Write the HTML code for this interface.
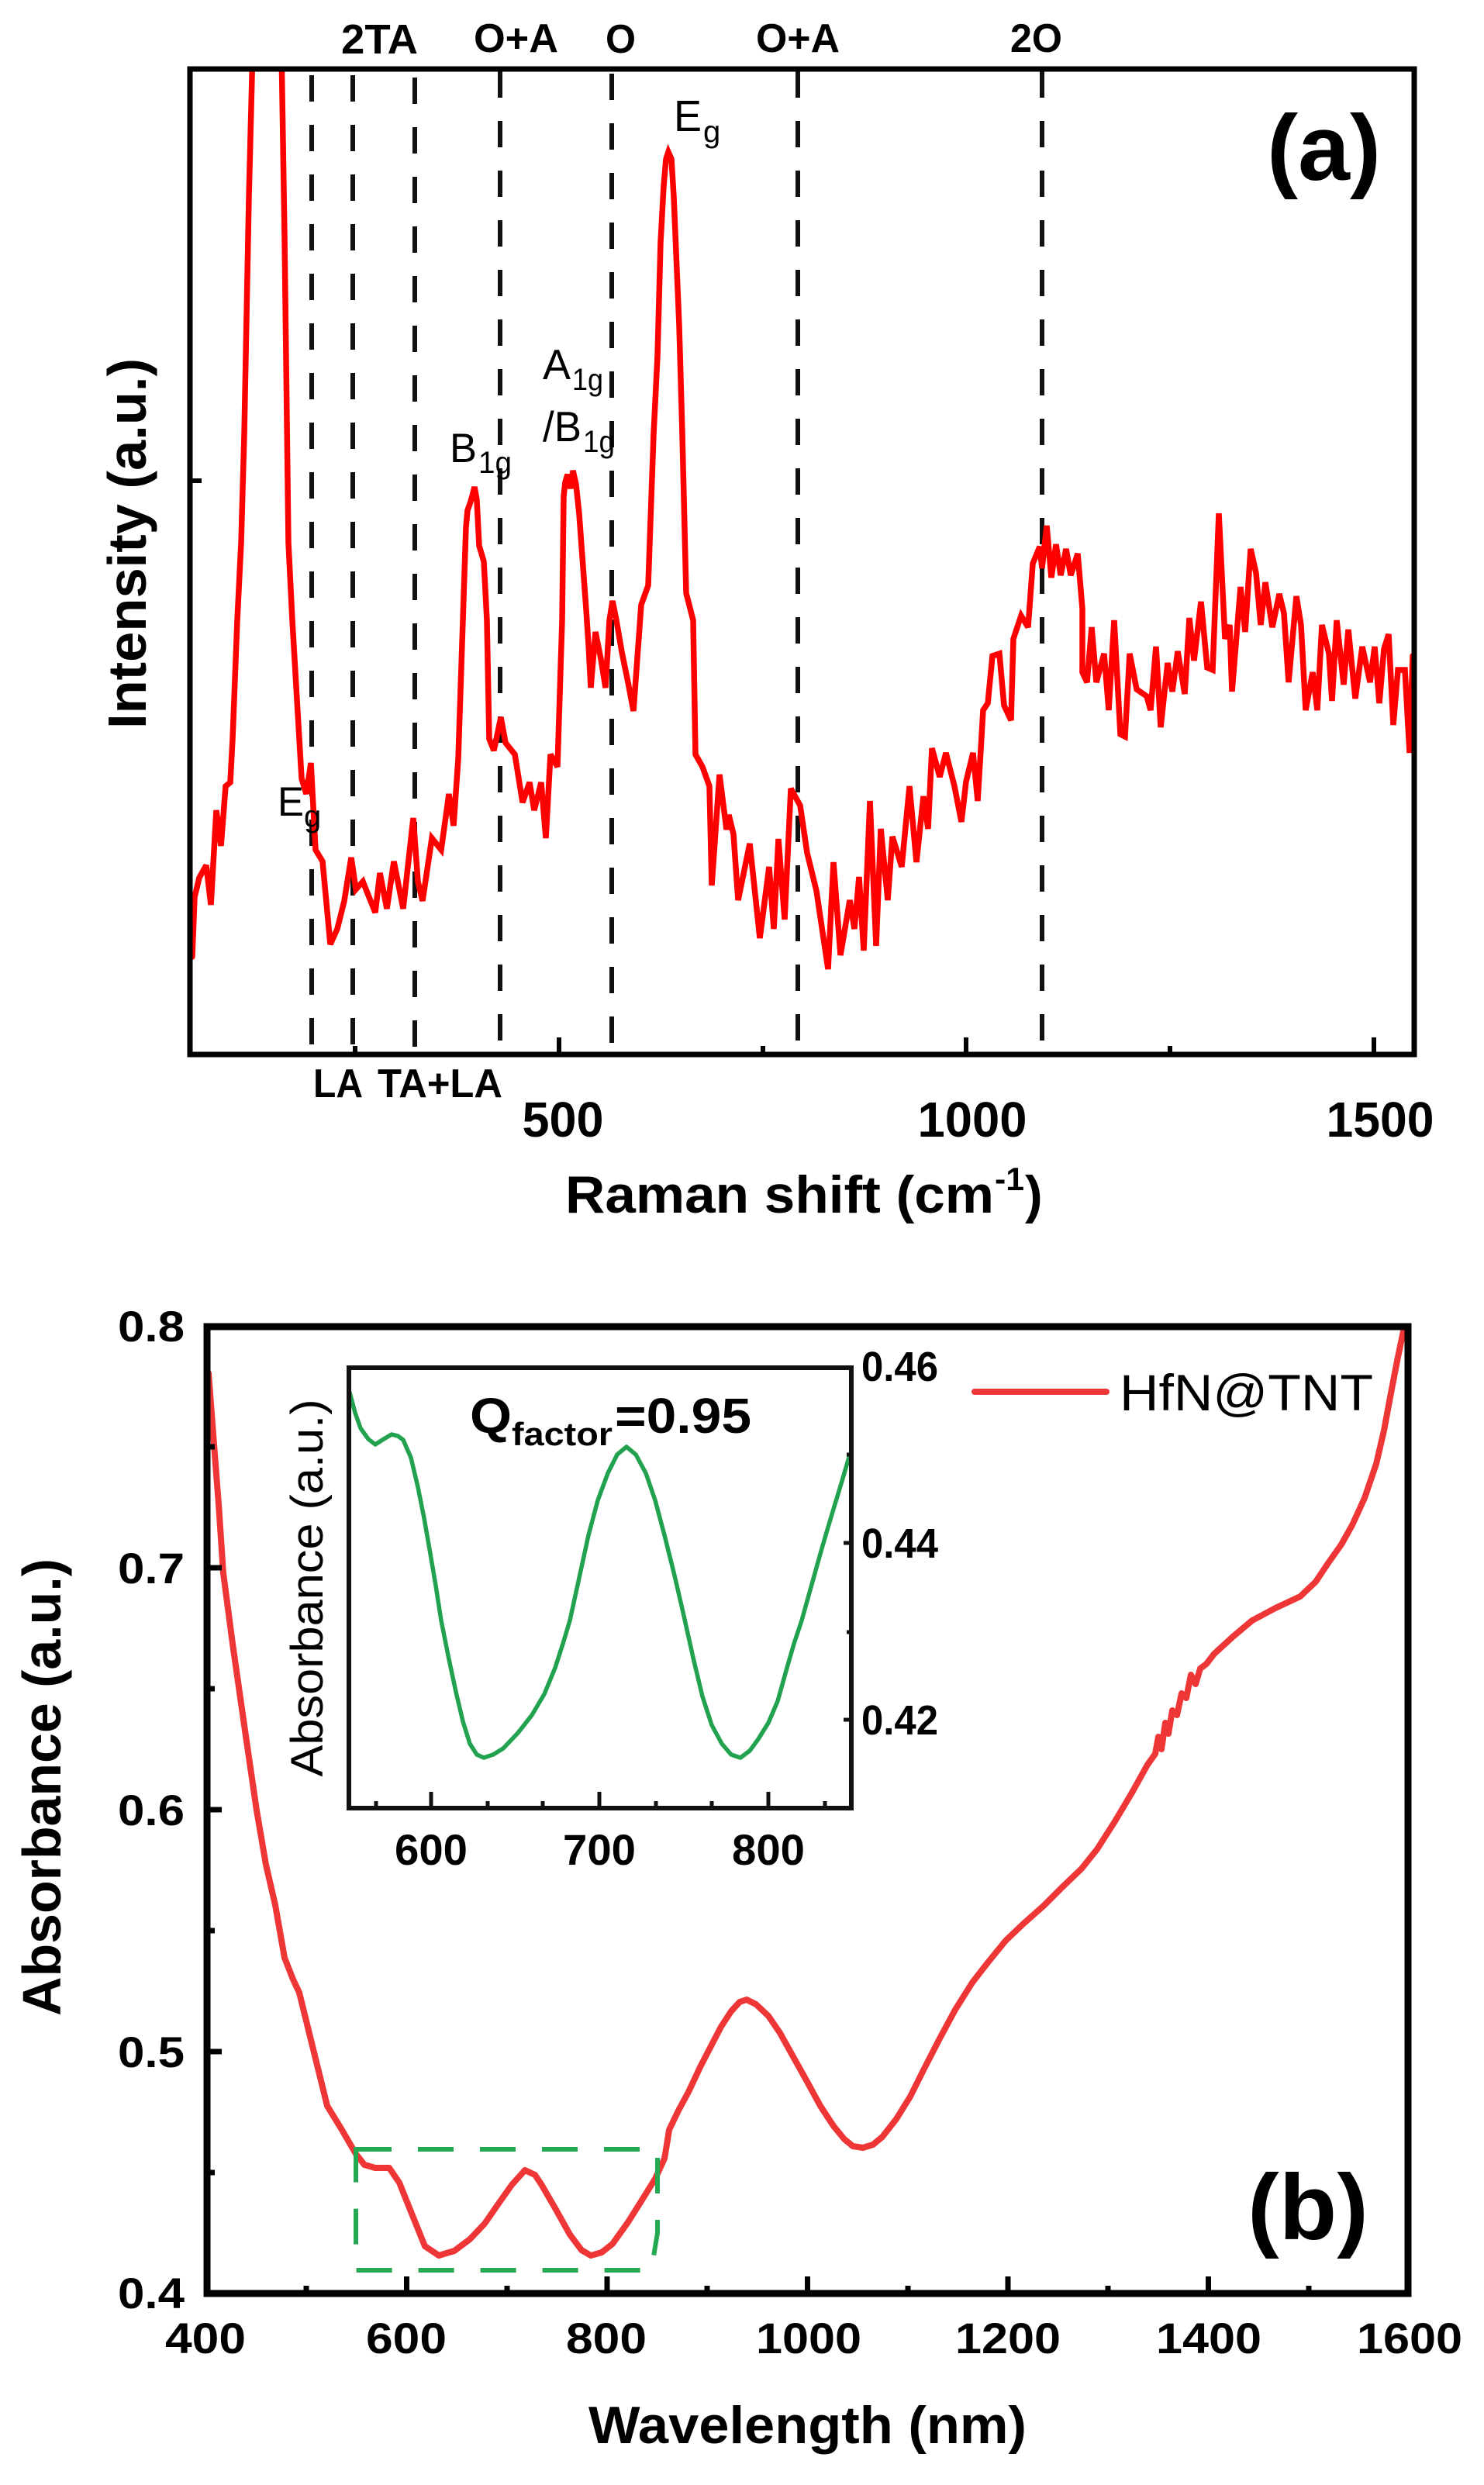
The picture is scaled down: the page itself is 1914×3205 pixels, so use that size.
<!DOCTYPE html>
<html><head><meta charset="utf-8"><style>
html,body{margin:0;padding:0;background:#fff;}
svg{display:block;}
text{font-family:"Liberation Sans",Arial,sans-serif;fill:#000;}
.b{font-weight:bold;}
</style></head><body>
<svg width="1914" height="3205" viewBox="0 0 1914 3205" xmlns="http://www.w3.org/2000/svg">
<rect x="0" y="0" width="1914" height="3205" fill="#fff"/>
<defs>
<clipPath id="ca"><rect x="248" y="92" width="1573" height="1265"/></clipPath>
</defs>

<!-- ================= PANEL (a) ================= -->
<g stroke="#111" stroke-width="6" stroke-dasharray="34 30" fill="none">
<line x1="402" y1="97" x2="402" y2="1357"/>
<line x1="455" y1="97" x2="455" y2="1357"/>
<line x1="535" y1="100" x2="535" y2="1357"/>
<line x1="645" y1="92" x2="645" y2="1357"/>
<line x1="789" y1="95" x2="789" y2="1357"/>
<line x1="1029" y1="92" x2="1029" y2="1357"/>
<line x1="1344" y1="92" x2="1344" y2="1357"/>
</g>

<path clip-path="url(#ca)" fill="none" stroke="#ff0000" stroke-width="7.5" stroke-linejoin="miter" stroke-miterlimit="3" stroke-linecap="round" d="M248,1234 L251,1157 257,1132 266,1116 272,1167 279,1045 285,1091 291,1014 297,1009 300,953 306,800 311,700 315,561 321,255 326,60 363,60 367,306 372,700 377,800 383,902 389,1004 395,1024 401,984 407,1096 416,1111 426,1218 435,1198 444,1162 453,1106 459,1147 468,1137 484,1177 490,1126 499,1172 508,1111 520,1172 533,1055 539,1137 545,1162 557,1081 569,1096 579,1024 585,1065 591,979 597,800 601,680 603,658 606,650 609,640 612,628 615,645 618,704 624,724 628,800 631,953 637,968 646,925 652,958 664,973 674,1035 683,1009 689,1045 698,1009 704,1081 710,973 719,989 725,800 727,640 729,622 732,612 736,630 739,607 743,625 747,663 756,786 759,831 762,887 768,815 775,850 781,887 786,800 790,775 795,800 802,841 810,880 817,917 827,780 836,755 843,560 848,459 852,312 856,240 859,205 862,196 866,205 869,254 876,420 880,560 885,765 894,800 897,973 906,989 915,1014 918,1142 928,999 937,1070 940,1051 946,1076 952,1161 967,1088 980,1210 992,1118 998,1198 1004,1082 1012,1186 1020,1017 1032,1039 1041,1100 1053,1149 1068,1250 1075,1112 1084,1232 1096,1161 1102,1198 1108,1131 1114,1226 1122,1033 1130,1220 1136,1069 1145,1161 1151,1079 1163,1118 1173,1014 1182,1112 1191,1027 1197,1069 1202,965 1212,1002 1220,971 1231,1014 1240,1060 1246,1008 1255,971 1261,1033 1268,916 1274,907 1280,846 1289,843 1295,910 1304,929 1307,824 1317,794 1326,809 1332,727 1341,705 1344,733 1350,678 1356,745 1362,702 1368,742 1375,708 1381,742 1390,714 1396,785 1396,867 1402,880 1408,809 1414,880 1424,843 1430,916 1437,800 1445,947 1451,950 1457,843 1466,889 1479,898 1484,916 1491,834 1497,938 1506,855 1512,892 1519,840 1528,895 1534,797 1540,852 1549,776 1557,861 1564,864 1572,662 1580,824 1586,806 1589,892 1600,757 1606,815 1613,708 1620,739 1626,806 1632,751 1641,809 1650,766 1656,791 1662,880 1672,769 1678,806 1684,916 1693,867 1699,916 1705,806 1714,843 1718,904 1724,800 1733,883 1739,812 1748,901 1757,834 1767,880 1773,834 1779,907 1785,837 1791,818 1797,935 1803,864 1812,864 1818,971 1822,846"/>

<!-- axes frame (a) -->
<rect x="245" y="89" width="1579" height="1271" fill="none" stroke="#000" stroke-width="7"/>
<g stroke="#000" stroke-width="6">
<line x1="721" y1="1360" x2="721" y2="1338"/>
<line x1="1246" y1="1360" x2="1246" y2="1338"/>
<line x1="1772" y1="1360" x2="1772" y2="1338"/>
<line x1="458" y1="1360" x2="458" y2="1349"/>
<line x1="984" y1="1360" x2="984" y2="1349"/>
<line x1="1509" y1="1360" x2="1509" y2="1349"/>
<line x1="245" y1="620" x2="260" y2="620"/>
</g>

<!-- tick labels (a) -->
<text class="b" x="726" y="1466" font-size="64" text-anchor="middle" textLength="105" lengthAdjust="spacingAndGlyphs">500</text>
<text class="b" x="1254" y="1466" font-size="64" text-anchor="middle" textLength="141" lengthAdjust="spacingAndGlyphs">1000</text>
<text class="b" x="1780" y="1466" font-size="64" text-anchor="middle" textLength="139" lengthAdjust="spacingAndGlyphs">1500</text>

<!-- axis titles (a) -->
<text class="b" x="729" y="1564" font-size="68" textLength="553" lengthAdjust="spacingAndGlyphs">Raman shift (cm</text>
<text class="b" x="1283" y="1535" font-size="42" textLength="38" lengthAdjust="spacingAndGlyphs">-1</text>
<text class="b" x="1322" y="1564" font-size="68">)</text>
<text class="b" transform="translate(188,701) rotate(-90)" font-size="70" text-anchor="middle" textLength="478" lengthAdjust="spacingAndGlyphs">Intensity (a.u.)</text>

<!-- mode labels top -->
<text class="b" x="440" y="69" font-size="54" textLength="99" lengthAdjust="spacingAndGlyphs">2TA</text>
<text class="b" x="611" y="67" font-size="52" textLength="109" lengthAdjust="spacingAndGlyphs">O+A</text>
<text class="b" x="781" y="68" font-size="52" textLength="39" lengthAdjust="spacingAndGlyphs">O</text>
<text class="b" x="975" y="67" font-size="52" textLength="108" lengthAdjust="spacingAndGlyphs">O+A</text>
<text class="b" x="1303" y="67" font-size="52" textLength="67" lengthAdjust="spacingAndGlyphs">2O</text>
<!-- mode labels bottom -->
<text class="b" x="404" y="1415" font-size="52" textLength="64" lengthAdjust="spacingAndGlyphs">LA</text>
<text class="b" x="487" y="1415" font-size="52" textLength="161" lengthAdjust="spacingAndGlyphs">TA+LA</text>

<!-- peak labels -->
<text x="869" y="169" font-size="57" textLength="36" lengthAdjust="spacingAndGlyphs">E</text>
<text x="907" y="183" font-size="40">g</text>
<text x="580" y="596" font-size="53" textLength="35" lengthAdjust="spacingAndGlyphs">B</text>
<text x="617" y="610" font-size="40" textLength="43" lengthAdjust="spacingAndGlyphs">1g</text>
<text x="700" y="489" font-size="55" textLength="36" lengthAdjust="spacingAndGlyphs">A</text>
<text x="738" y="503" font-size="40" textLength="40" lengthAdjust="spacingAndGlyphs">1g</text>
<text x="700" y="569" font-size="55" textLength="50" lengthAdjust="spacingAndGlyphs">/B</text>
<text x="752" y="583" font-size="40" textLength="41" lengthAdjust="spacingAndGlyphs">1g</text>
<text x="358" y="1052" font-size="53" textLength="34" lengthAdjust="spacingAndGlyphs">E</text>
<text x="392" y="1066" font-size="40">g</text>

<text class="b" x="1634" y="232" font-size="120" textLength="147" lengthAdjust="spacingAndGlyphs">(a)</text>

<!-- ================= PANEL (b) ================= -->
<path fill="none" stroke="#ef3636" stroke-width="8" stroke-linejoin="round" stroke-linecap="round" d="M269,1771 L275,1850 282,1940 288,2029 300,2120 315,2225 331,2335 343,2405 355,2457 367,2525 378,2553 386,2570 404,2643 422,2716 441,2747 459,2778 470,2792 484,2796 502,2796 515,2815 527,2845 548,2897 566,2909 586,2903 606,2888 625,2868 643,2842 660,2818 677,2799 690,2805 698,2817 716,2848 735,2882 750,2902 762,2909 776,2905 790,2894 810,2866 827,2839 845,2810 857,2784 861,2760 863,2747 875,2722 888,2698 903,2666 918,2637 930,2614 943,2594 954,2582 963,2579 975,2585 991,2600 1006,2622 1021,2649 1040,2683 1058,2716 1075,2742 1089,2759 1100,2768 1113,2770 1126,2766 1138,2756 1156,2733 1174,2704 1192,2668 1211,2631 1232,2592 1254,2557 1275,2530 1297,2503 1320,2481 1346,2458 1370,2434 1395,2410 1415,2385 1438,2349 1460,2312 1480,2276 1490,2262 1494,2240 1498,2256 1503,2222 1507,2236 1512,2206 1518,2212 1524,2184 1530,2190 1536,2160 1542,2172 1548,2152 1556,2146 1566,2133 1590,2111 1615,2090 1645,2074 1677,2059 1697,2040 1713,2016 1730,1992 1744,1967 1760,1932 1775,1888 1785,1845 1793,1802 1802,1755 1811,1712"/>

<!-- green dashed box -->
<path d="M459,2772 L848,2772 L848,2880 L840,2928 L459,2928 Z" fill="none" stroke="#25a852" stroke-width="6" stroke-dasharray="46 34"/>

<!-- frame (b) -->
<rect x="267" y="1711" width="1549" height="1247" fill="none" stroke="#000" stroke-width="9"/>
<g stroke="#000" stroke-width="7">
<line x1="267" y1="2022" x2="286" y2="2022"/>
<line x1="267" y1="2334" x2="286" y2="2334"/>
<line x1="267" y1="2646" x2="286" y2="2646"/>
<line x1="267" y1="1866" x2="277" y2="1866"/>
<line x1="267" y1="2178" x2="277" y2="2178"/>
<line x1="267" y1="2490" x2="277" y2="2490"/>
<line x1="267" y1="2802" x2="277" y2="2802"/>
<line x1="524.5" y1="2958" x2="524.5" y2="2936"/>
<line x1="783" y1="2958" x2="783" y2="2936"/>
<line x1="1041.5" y1="2958" x2="1041.5" y2="2936"/>
<line x1="1300" y1="2958" x2="1300" y2="2936"/>
<line x1="1558.5" y1="2958" x2="1558.5" y2="2936"/>
<line x1="395" y1="2958" x2="395" y2="2948"/>
<line x1="654" y1="2958" x2="654" y2="2948"/>
<line x1="912" y1="2958" x2="912" y2="2948"/>
<line x1="1171" y1="2958" x2="1171" y2="2948"/>
<line x1="1429" y1="2958" x2="1429" y2="2948"/>
<line x1="1688" y1="2958" x2="1688" y2="2948"/>
</g>

<!-- y tick labels (b) -->
<g font-size="56" text-anchor="end">
<text class="b" x="238" y="1730" textLength="86" lengthAdjust="spacingAndGlyphs">0.8</text>
<text class="b" x="238" y="2042" textLength="86" lengthAdjust="spacingAndGlyphs">0.7</text>
<text class="b" x="238" y="2354" textLength="86" lengthAdjust="spacingAndGlyphs">0.6</text>
<text class="b" x="238" y="2666" textLength="86" lengthAdjust="spacingAndGlyphs">0.5</text>
<text class="b" x="238" y="2977" textLength="86" lengthAdjust="spacingAndGlyphs">0.4</text>
</g>
<!-- x tick labels (b) -->
<g font-size="56" text-anchor="middle">
<text class="b" x="265" y="3035" textLength="104" lengthAdjust="spacingAndGlyphs">400</text>
<text class="b" x="524" y="3035" textLength="104" lengthAdjust="spacingAndGlyphs">600</text>
<text class="b" x="782" y="3035" textLength="104" lengthAdjust="spacingAndGlyphs">800</text>
<text class="b" x="1043" y="3035" textLength="136" lengthAdjust="spacingAndGlyphs">1000</text>
<text class="b" x="1300" y="3035" textLength="136" lengthAdjust="spacingAndGlyphs">1200</text>
<text class="b" x="1559" y="3035" textLength="136" lengthAdjust="spacingAndGlyphs">1400</text>
<text class="b" x="1818" y="3035" textLength="136" lengthAdjust="spacingAndGlyphs">1600</text>
</g>

<text class="b" x="759" y="3151" font-size="68" textLength="565" lengthAdjust="spacingAndGlyphs">Wavelength (nm)</text>
<text class="b" transform="translate(78,2305) rotate(-90)" font-size="70" text-anchor="middle" textLength="590" lengthAdjust="spacingAndGlyphs">Absorbance (a.u.)</text>

<!-- legend -->
<line x1="1257" y1="1795" x2="1427" y2="1795" stroke="#ef3636" stroke-width="8" stroke-linecap="round"/>
<text x="1444" y="1819" font-size="66" textLength="327" lengthAdjust="spacingAndGlyphs">HfN@TNT</text>

<text class="b" x="1609" y="2888" font-size="120" textLength="156" lengthAdjust="spacingAndGlyphs">(b)</text>

<!-- ================= INSET ================= -->
<rect x="450" y="1764" width="648" height="568" fill="#fff" stroke="none"/>
<path fill="none" stroke="#22a24f" stroke-width="5.5" stroke-linejoin="round" stroke-linecap="round" d="M451,1796 L458,1822 465,1842 475,1856 484,1863 495,1856 505,1850 513,1852 520,1857 530,1880 539,1918 547,1958 554,1998 562,2045 569,2090 579,2140 588,2182 597,2220 606,2249 615,2263 624,2267 636,2263 649,2255 668,2235 686,2212 702,2185 716,2151 726,2120 735,2090 747,2035 759,1980 771,1935 784,1900 796,1876 808,1866 820,1876 833,1900 845,1935 857,1980 870,2032 882,2084 894,2138 906,2188 918,2225 931,2249 943,2263 955,2267 967,2258 978,2243 991,2222 1003,2194 1015,2151 1024,2120 1034,2090 1046,2047 1058,2004 1067,1973 1076,1943 1086,1910 1096,1876"/>
<rect x="450" y="1764" width="648" height="568" fill="none" stroke="#111" stroke-width="6"/>
<g stroke="#111" stroke-width="5">
<line x1="556" y1="2332" x2="556" y2="2311"/>
<line x1="773" y1="2332" x2="773" y2="2311"/>
<line x1="991" y1="2332" x2="991" y2="2311"/>
<line x1="485" y1="2332" x2="485" y2="2323"/>
<line x1="629" y1="2332" x2="629" y2="2323"/>
<line x1="700" y1="2332" x2="700" y2="2323"/>
<line x1="846" y1="2332" x2="846" y2="2323"/>
<line x1="918" y1="2332" x2="918" y2="2323"/>
<line x1="1064" y1="2332" x2="1064" y2="2323"/>
<line x1="1098" y1="1990" x2="1088" y2="1990"/>
<line x1="1098" y1="2218" x2="1088" y2="2218"/>
<line x1="1098" y1="1876" x2="1092" y2="1876"/>
<line x1="1098" y1="2105" x2="1092" y2="2105"/>
</g>
<g font-size="56" text-anchor="middle">
<text class="b" x="556" y="2405" textLength="94" lengthAdjust="spacingAndGlyphs">600</text>
<text class="b" x="773" y="2405" textLength="94" lengthAdjust="spacingAndGlyphs">700</text>
<text class="b" x="991" y="2405" textLength="94" lengthAdjust="spacingAndGlyphs">800</text>
</g>
<g font-size="54">
<text class="b" x="1111" y="1781" textLength="99" lengthAdjust="spacingAndGlyphs">0.46</text>
<text class="b" x="1111" y="2009" textLength="99" lengthAdjust="spacingAndGlyphs">0.44</text>
<text class="b" x="1111" y="2237" textLength="99" lengthAdjust="spacingAndGlyphs">0.42</text>
</g>
<text transform="translate(416,2048) rotate(-90)" font-size="58" text-anchor="middle" textLength="487" lengthAdjust="spacingAndGlyphs">Absorbance (a.u.)</text>
<text class="b" x="606" y="1848" font-size="64" textLength="54" lengthAdjust="spacingAndGlyphs">Q</text>
<text class="b" x="660" y="1864" font-size="42" textLength="130" lengthAdjust="spacingAndGlyphs">factor</text>
<text class="b" x="793" y="1848" font-size="64" textLength="176" lengthAdjust="spacingAndGlyphs">=0.95</text>
</svg>
</body></html>
